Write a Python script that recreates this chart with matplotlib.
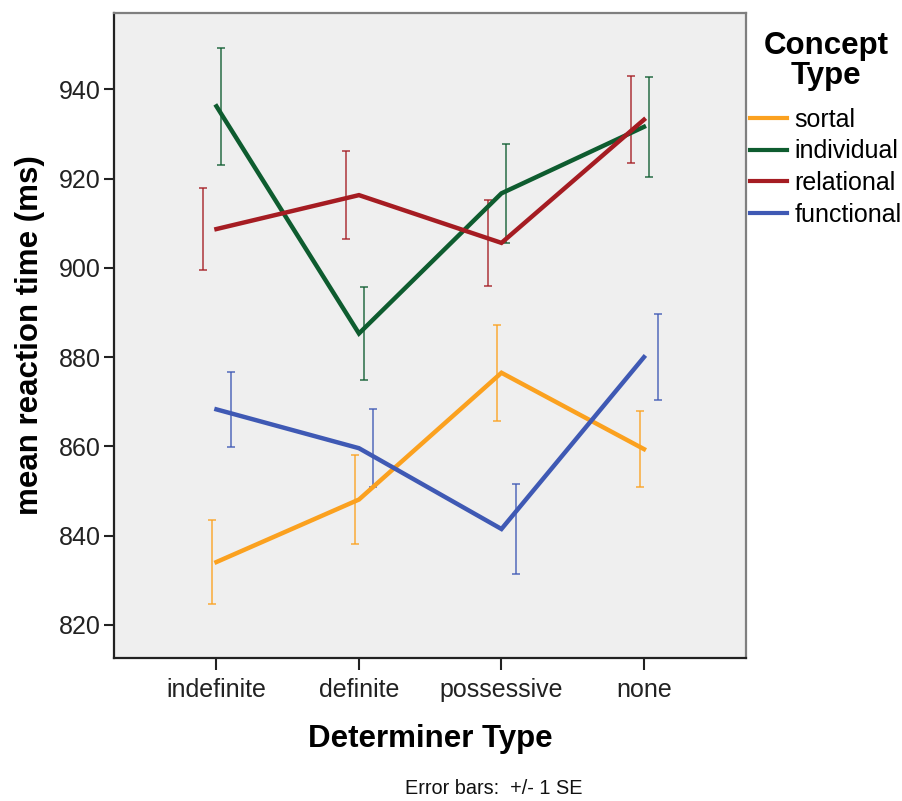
import numpy as np
import matplotlib
matplotlib.use('Agg')
import matplotlib.pyplot as plt

plt.rcParams['font.family'] = ['Liberation Sans', 'DejaVu Sans']

# determiner categories along x
determiners = ['indefinite', 'definite', 'possessive', 'none']

# concept types (legend order)
concepts = ['sortal', 'individual', 'relational', 'functional']
colors   = ['#FBA11F', '#0E5C2F', '#A51C22', '#3F59B4']

# mean reaction times (ms) per concept type
sortal_mean     = [834.1, 848.1, 876.5, 859.4]
individual_mean = [936.2, 885.3, 916.7, 931.6]
relational_mean = [908.7, 916.3, 905.6, 933.2]
functional_mean = [868.3, 859.6, 841.5, 880.0]

# standard errors
sortal_se     = [9.4, 10.0, 10.7, 8.6]
individual_se = [13.1, 10.5, 11.1, 11.2]
relational_se = [9.1, 9.8, 9.7, 9.8]
functional_se = [8.4, 8.7, 10.0, 9.6]

means = [sortal_mean, individual_mean, relational_mean, functional_mean]
ses   = [sortal_se, individual_se, relational_se, functional_se]

# error bars are dodged a little around each category
dodge = [-0.028, 0.035, -0.091, 0.100]

fig = plt.figure(figsize=(9.03, 8.01), dpi=100)
ax = fig.add_axes([114/903, 1 - 658/801, 632/903, 645/801])
ax.set_facecolor('#EFEFEF')

x = np.arange(len(determiners))
for name, col, m, se, dx in zip(concepts, colors, means, ses, dodge):
    ax.errorbar(x + dx, m, yerr=se, fmt='none', ecolor=col, elinewidth=1.3,
                capsize=2.8, capthick=1.3, alpha=0.75, zorder=2)
    ax.plot(x, m, color=col, lw=3.2, label=name, zorder=3,
            solid_joinstyle='miter')

ax.set_xlim(-0.719, 3.716)
ax.set_ylim(812.6, 957.1)
ax.set_yticks([820, 840, 860, 880, 900, 920, 940])
ax.set_xticks(x)
ax.set_xticklabels(determiners)

ax.tick_params(axis='both', direction='out', labelsize=18, colors='#222222',
               labelcolor='#222222', width=1.5)
ax.tick_params(axis='y', length=7.5, pad=2)
ax.tick_params(axis='x', length=8.5, pad=6)

for side in ['left', 'bottom']:
    ax.spines[side].set_color('#222222')
    ax.spines[side].set_linewidth(1.6)
for side in ['top', 'right']:
    ax.spines[side].set_color('#7F7F7F')
    ax.spines[side].set_linewidth(1.6)

ax.set_xlabel('Determiner Type', fontsize=22.5, fontweight='bold', labelpad=16)
ax.set_ylabel('mean reaction time (ms)', fontsize=22.5, fontweight='bold',
              labelpad=10)

# legend title drawn separately so it can sit centred above the entries
fig.text(826/903, 1 - 31/801, 'Concept\nType', fontsize=22.5,
         fontweight='bold', ha='center', va='top', multialignment='center',
         linespacing=1.0)

leg = fig.legend(loc='upper left', bbox_to_anchor=(750/903, 1 - 108/801),
                 frameon=False, fontsize=18,
                 handlelength=1.5, handletextpad=0.28, labelspacing=0.30,
                 borderpad=0, borderaxespad=0)
for line in leg.get_lines():
    line.set_linewidth(3.0)

fig.text(494/903, 1 - 788/801, 'Error bars:  +/- 1 SE', fontsize=14.3,
         ha='center', va='center', color='#111111')

fig.savefig('out.png', dpi=100)
